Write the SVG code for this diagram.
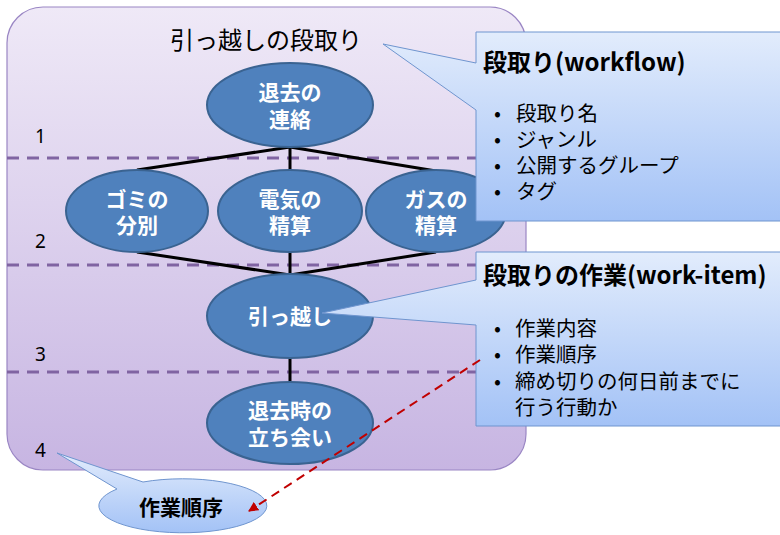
<svg xmlns="http://www.w3.org/2000/svg" width="780" height="535" viewBox="0 0 780 535">
<defs>
<linearGradient id="gPanel" x1="0" y1="0" x2="0" y2="1">
<stop offset="0" stop-color="#efe9f7"/>
<stop offset="1" stop-color="#c7b5e2"/>
</linearGradient>
<linearGradient id="gCall" x1="0" y1="0" x2="0" y2="1">
<stop offset="0" stop-color="#e2ecfc"/>
<stop offset="1" stop-color="#a3c2f6"/>
</linearGradient>
<marker id="arr" viewBox="0 0 10 10" refX="9" refY="5" markerWidth="5" markerHeight="5" orient="auto" markerUnits="strokeWidth">
<path d="M0,0 L10,5 L0,10 Z" fill="#c00000"/>
</marker>
<style>
.node ellipse{fill:#4f81bd;stroke:#3a6391;stroke-width:2}
.node text{fill:#fff;font-family:"Noto Sans CJK JP",sans-serif;font-weight:bold;font-size:21px;text-anchor:middle}
.edge{stroke:#000;stroke-width:3;fill:none}
.lane{stroke:#8064a2;stroke-width:3;stroke-dasharray:12 8;fill:none}
.num{font-family:"Noto Sans","Liberation Sans",sans-serif;font-size:19px;fill:#000}
.call{fill:url(#gCall);stroke:#6f95cf;stroke-width:1}
.ctitle{font-family:"Noto Sans CJK JP",sans-serif;font-weight:bold;font-size:24px;fill:#000}
.cbody{font-family:"Noto Sans CJK JP",sans-serif;font-size:20.5px;fill:#000}
</style>
</defs>
<rect x="7" y="7" width="519" height="463" rx="36" ry="36" fill="url(#gPanel)" stroke="#9a86c4" stroke-width="1.2"/>
<text x="266" y="49" text-anchor="middle" font-family="'Noto Sans CJK JP',sans-serif" font-size="24" fill="#000">引っ越しの段取り</text>
<g id="lanes">
<line class="lane" x1="7" y1="158" x2="480" y2="158"/>
<line class="lane" x1="7" y1="265" x2="480" y2="265"/>
<line class="lane" x1="7" y1="372" x2="480" y2="372"/>
</g>
<g id="numbers">
<text class="num" x="35" y="143">1</text>
<text class="num" x="35" y="248">2</text>
<text class="num" x="35" y="361">3</text>
<text class="num" x="35" y="457">4</text>
</g>
<g id="connectors">
<line class="edge" x1="290" y1="147" x2="137" y2="170"/>
<line class="edge" x1="290" y1="147" x2="290" y2="170"/>
<line class="edge" x1="290" y1="147" x2="436" y2="171"/>
<line class="edge" x1="137" y1="252" x2="290" y2="275"/>
<line class="edge" x1="290" y1="252" x2="290" y2="275"/>
<line class="edge" x1="436" y1="252" x2="290" y2="275"/>
<line class="edge" x1="290" y1="358" x2="290" y2="382"/>
</g>
<g id="n1" class="node"><ellipse cx="290" cy="105" rx="83" ry="42"/><text x="290" y="100">退去の</text><text x="290" y="127">連絡</text></g>
<g id="n2" class="node"><ellipse cx="137" cy="211" rx="71" ry="41"/><text x="137" y="207">ゴミの</text><text x="137" y="233">分別</text></g>
<g id="n3" class="node"><ellipse cx="290" cy="211" rx="72" ry="41"/><text x="290" y="207">電気の</text><text x="290" y="233">精算</text></g>
<g id="n4" class="node"><ellipse cx="436" cy="211" rx="70" ry="41"/><text x="436" y="207">ガスの</text><text x="436" y="233">精算</text></g>
<g id="n5" class="node"><ellipse cx="290" cy="316" rx="83" ry="42"/><text x="290" y="324">引っ越し</text></g>
<g id="n6" class="node"><ellipse cx="290" cy="423" rx="83" ry="41"/><text x="290" y="418">退去時の</text><text x="290" y="445">立ち会い</text></g>
<g id="callout1">
<path class="call" d="M476,32 H790 V221 H476 V110 L383,44 L476,63 Z"/>
<text class="ctitle" x="483" y="71">段取り(workflow)</text>
<text class="cbody" x="494" y="121">•</text><text class="cbody" x="516" y="121">段取り名</text>
<text class="cbody" x="494" y="147">•</text><text class="cbody" x="516" y="147">ジャンル</text>
<text class="cbody" x="494" y="173">•</text><text class="cbody" x="516" y="173">公開するグループ</text>
<text class="cbody" x="494" y="199">•</text><text class="cbody" x="516" y="199">タグ</text>
</g>
<g id="callout2">
<path class="call" d="M476,252 H790 V426 H476 V325 L322,313 L476,280 Z"/>
<text class="ctitle" x="483" y="284">段取りの作業(work-item)</text>
<text class="cbody" x="494" y="336">•</text><text class="cbody" x="515" y="336">作業内容</text>
<text class="cbody" x="494" y="362">•</text><text class="cbody" x="515" y="362">作業順序</text>
<text class="cbody" x="494" y="389">•</text><text class="cbody" x="515" y="389">締め切りの何日前までに</text>
<text class="cbody" x="515" y="415">行う行動か</text>
</g>
<g id="callout3">
<path class="call" d="M143,482 A84,27 0 1 1 117,489 L57,453 Z"/>
<text x="181" y="515" text-anchor="middle" font-family="'Noto Sans CJK JP',sans-serif" font-weight="bold" font-size="21" fill="#000">作業順序</text>
</g>
<g id="arrow">
<line x1="480" y1="360" x2="249" y2="511" stroke="#c00000" stroke-width="2" stroke-dasharray="9 6" marker-end="url(#arr)"/>
</g>
</svg>
